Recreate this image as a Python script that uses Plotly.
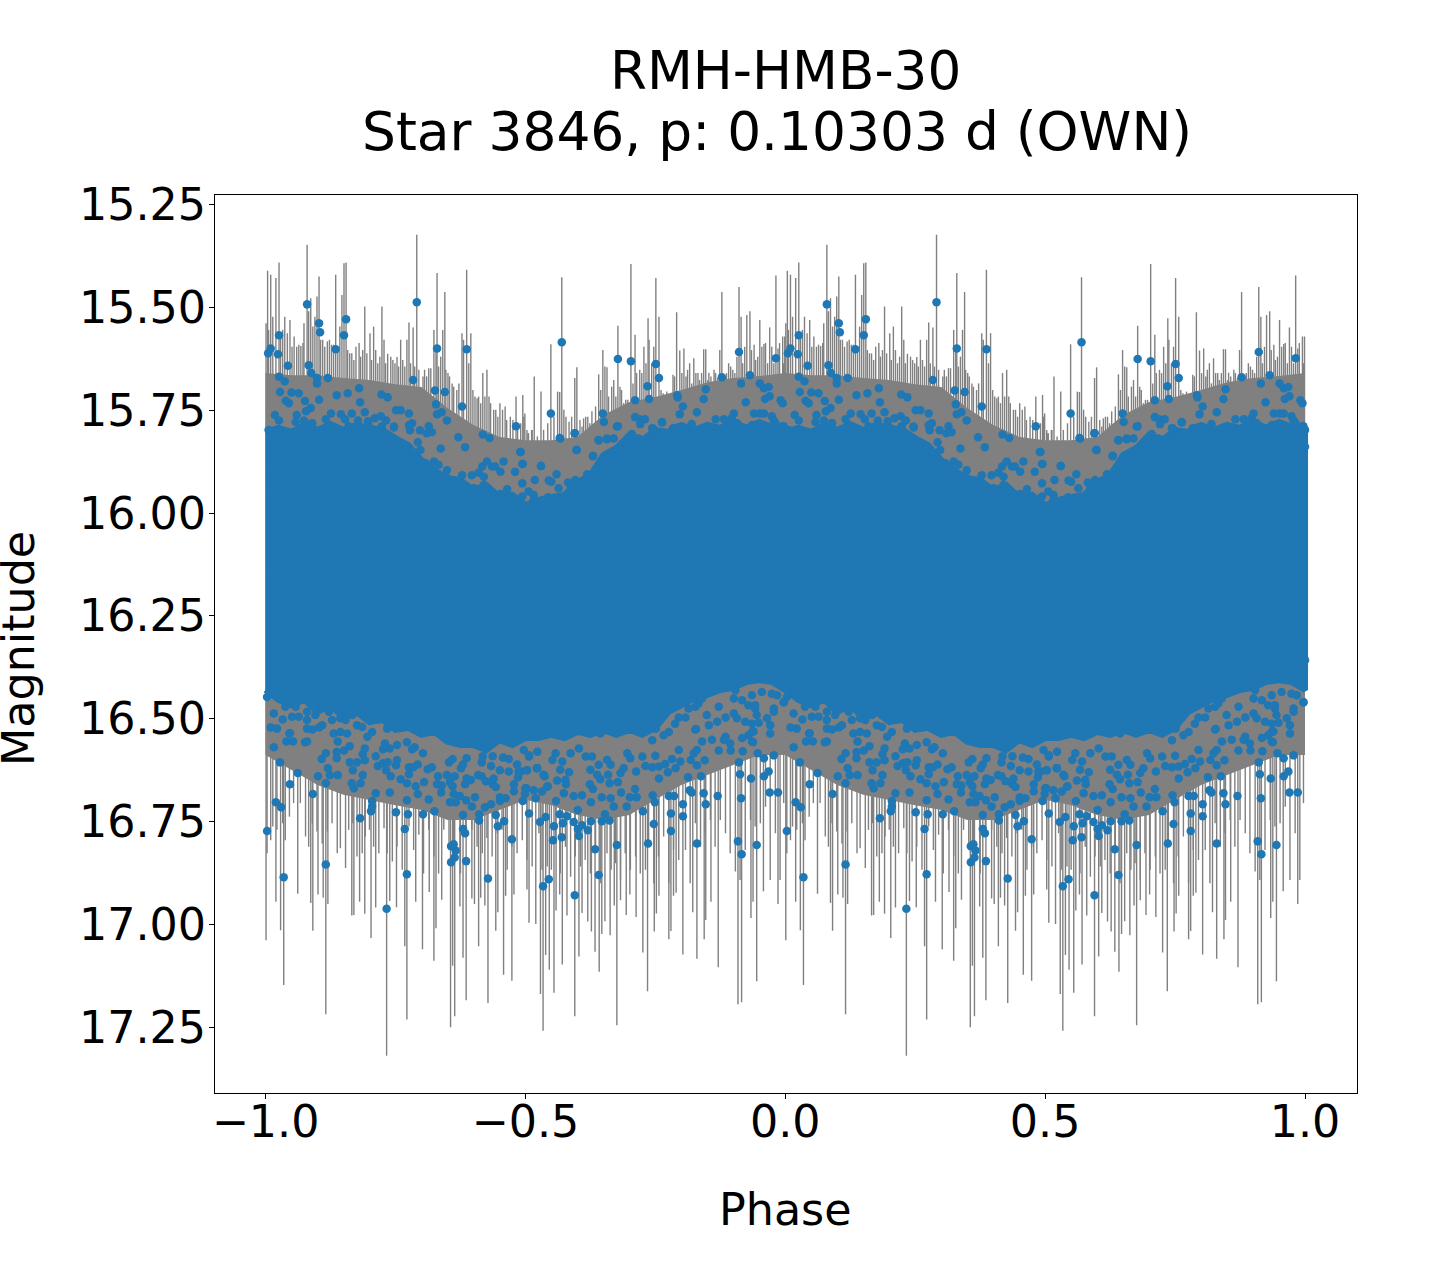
import plotly.graph_objects as go

# Values. Phases cover 0..1; the chart repeats them at phase-1.
title_line1 = "RMH-HMB-30"
title_line2 = "Star 3846, p: 0.10303 d (OWN)"

upper_phase = [.005,.010,.024,.026,.043,.026,.037,.080,.103,.105,.083,.088,.099,.099,.120,.151,.155,.135,.180,.291,.284,.330,.387,.326,.345,.328,.378,.276,.251,.260,.223,.235,.182,.158,.137,.103,.064,.050,.028,.076,.039,.045,.482,.418,.431,.490,.293,.297,.314,.320,.310,.337,.384,.371,.349,.339,.330,.282,.276,.278,.232,.222,.210,.191,.166,.126,.087,.078,.060,.018,.026,.058,.074,.089,.116,.145,.153,.160,.178,.197,.224,.247,
.570,.549,.678,.703,.751,.757,.735,.711,.738,.649,.651,.595,.566,.599,.641,.657,.678,.711,.720,.730,.763,.745,.792,.793,.803,.797,.830,.843,.847,.878,.911,.915,.932,.951,.959,.968,.982,.991,.995,.924,.961,.970,.940,.951,.959,.901,.866,.882,.897,.907,.974,.978,.997,.999,.915,.938,.784,.793,.820,.630,.657,.682,.697,.720,.530,.495,.491]
upper_mag = [15.612,15.600,15.614,15.568,15.642,15.669,15.680,15.493,15.539,15.561,15.641,15.660,15.672,15.685,15.672,15.568,15.529,15.602,15.697,15.488,15.677,15.600,15.602,15.702,15.706,15.736,15.741,15.758,15.750,15.750,15.712,15.719,15.731,15.709,15.714,15.725,15.709,15.707,15.706,15.728,15.727,15.733,15.789,15.809,15.818,15.852,15.828,15.799,15.789,15.804,15.806,15.843,15.840,15.816,15.775,15.755,15.760,15.782,15.787,15.799,15.775,15.765,15.770,15.755,15.758,15.758,15.745,15.753,15.762,15.762,15.775,15.779,15.775,15.782,15.772,15.760,15.772,15.789,15.775,15.777,15.789,15.792,
15.585,15.758,15.626,15.631,15.638,15.672,15.692,15.726,15.723,15.758,15.779,15.806,15.818,15.847,15.823,15.821,15.789,15.767,15.772,15.772,15.779,15.794,15.714,15.719,15.741,15.760,15.755,15.723,15.699,15.670,15.609,15.685,15.665,15.685,15.697,15.694,15.624,15.726,15.733,15.731,15.723,15.716,15.758,15.758,15.758,15.758,15.772,15.772,15.770,15.782,15.765,15.775,15.789,15.799,15.799,15.787,15.794,15.792,15.784,15.862,15.864,15.843,15.843,15.845,15.886,15.881,15.852]

edge_top_phase = [.006,.026,.048,.071,.090,.077,.083,.106,.122,.135,.119,.138,.154,.160,.186,.199,.218,.186,.237,.247,.224,.199,.205,.186,.160,.141,.096,.064,.038,.019,.247,.272,.266,.282,.298,.240,.253,.276,.301,.308,.324,.333,.349,.308,.317,.330,.346,.378,.397,.410,.420,.417,.426,.436,.442,.458,.452,.480,.494,.301,.317,.330,.356,.372,.385,.401,.420,.410,.426,.465,.452,.494,.494,.285,.276,.372,.391,.407,.430,.439,.455,.484,.471,.446,.423,.500,.462,.423,.397,.372,.346,.321,.301,.276,.308,.346,.378,
.530,.518,.545,.550,.560,.567,.595,.598,.630,.641,.657,.670,.676,.654,.679,.696,.705,.718,.721,.721,.744,.747,.744,.763,.788,.782,.766,.756,.673,.686,.699,.715,.728,.740,.660,.673,.654,.619,.615,.596,.582,.564,.587,.603,.622,.644,.506,.516,.544,.516,.576,.590,.606,.628,.554,.532,.503,.526,.599,.580,.510,.548,.801,.817,.846,.869,.885,.897,.917,.936,.962,.981,.994,1.0,.942,.962,.974,.990,1.0,.942,.962,.994,.978,.910,.885,.859,.827,.804,.962]
edge_top_mag = [15.798,15.798,15.815,15.831,15.782,15.798,15.823,15.806,15.806,15.798,15.831,15.827,15.823,15.815,15.810,15.810,15.810,15.831,15.827,15.790,15.790,15.790,15.851,15.851,15.843,15.851,15.851,15.851,15.843,15.831,15.851,15.839,15.855,15.851,15.847,15.875,15.883,15.875,15.883,15.879,15.875,15.883,15.896,15.904,15.902,15.908,15.910,15.908,15.908,15.902,15.912,15.887,15.875,15.887,15.887,15.875,15.900,15.900,15.881,15.924,15.936,15.944,15.928,15.940,15.944,15.940,15.932,15.948,15.944,15.942,15.954,15.928,15.960,15.940,15.940,15.964,15.972,15.968,15.964,15.960,15.972,15.981,15.986,15.983,15.981,16.005,16.005,16.009,16.005,15.989,15.981,15.968,15.968,15.968,16.001,16.009,16.013,
15.886,15.920,15.921,15.924,15.906,15.819,15.806,15.847,15.861,15.823,15.819,15.819,15.790,15.863,15.843,15.843,15.808,15.819,15.845,15.784,15.815,15.827,15.794,15.780,15.794,15.823,15.847,15.851,15.875,15.870,15.870,15.867,15.870,15.865,15.894,15.896,15.912,15.906,15.920,15.920,15.926,15.940,15.940,15.944,15.940,15.934,15.948,15.956,15.962,15.968,15.967,15.970,15.968,15.968,15.968,15.989,15.989,15.993,15.991,16.009,16.013,16.013,15.810,15.810,15.810,15.806,15.802,15.806,15.798,15.786,15.794,15.782,15.790,15.798,15.819,15.831,15.823,15.819,15.839,15.843,15.847,15.855,15.871,15.827,15.831,15.835,15.831,15.843,15.867]

edge_bottom_phase = [.003,.016,.010,.022,.046,.033,.051,.064,.038,.026,.058,.080,.080,.080,.090,.103,.109,.096,.109,.122,.128,.144,.154,.157,.167,.131,.144,.157,.176,.186,.205,.196,.234,.253,.263,.247,.218,.199,.228,.276,.298,.292,.321,.333,.314,.343,.369,.385,.397,.359,.417,.455,.478,.115,.096,.071,.038,.016,
.997,.978,.978,.965,.971,.971,.942,.945,.942,.929,.917,.904,.901,.901,.907,.923,.936,.949,.936,.929,.885,.885,.869,.853,.849,.833,.827,.814,.872,.808,.795,.788,.827,.776,.766,.750,.744,.705,.699,.670,.654,.644,.840,.821,.846,.859,.910,.926,.942,.955,.974,.984,.936,.990,.997,.962,.942,.923,.878,.849,.891,.962,1.0,.994,
.497,.507,.523,.558,.552,.571,.567,.523,.535,.561,.577,.542,.532,.500,.491,.587,.603,.616,.628,.625,.641,.638,.644,.659,.657,.664,.683,.689,.696,.702,.725,.731,.744,.750,.757,.769,.782,.795,.798,.818,.824,.830,.840,.859,.882,.894,.917,.939,.936]
edge_bottom_mag = [16.447,16.487,16.521,16.524,16.536,16.502,16.495,16.495,16.471,16.447,16.471,16.483,16.503,16.524,16.526,16.521,16.516,16.491,16.471,16.483,16.503,16.499,16.503,16.483,16.491,16.536,16.532,16.536,16.516,16.520,16.532,16.544,16.524,16.520,16.507,16.483,16.475,16.487,16.487,16.520,16.491,16.524,16.524,16.528,16.499,16.503,16.524,16.532,16.528,16.544,16.528,16.536,16.540,16.439,16.447,16.439,16.422,16.414,
16.460,16.475,16.483,16.499,16.516,16.536,16.475,16.491,16.467,16.467,16.455,16.431,16.451,16.487,16.499,16.507,16.512,16.510,16.532,16.540,16.497,16.544,16.507,16.516,16.491,16.463,16.471,16.475,16.471,16.497,16.497,16.512,16.526,16.532,16.540,16.524,16.552,16.516,16.503,16.507,16.528,16.536,16.451,16.451,16.418,16.414,16.405,16.394,16.402,16.435,16.439,16.443,16.443,16.410,16.382,16.386,16.374,16.378,16.378,16.394,16.402,16.406,16.358,16.325,
16.576,16.592,16.580,16.584,16.600,16.604,16.624,16.620,16.636,16.650,16.649,16.665,16.677,16.669,16.628,16.584,16.572,16.592,16.592,16.624,16.612,16.636,16.647,16.636,16.600,16.612,16.632,16.620,16.584,16.596,16.592,16.615,16.618,16.590,16.616,16.610,16.598,16.576,16.604,16.600,16.584,16.576,16.555,16.551,16.551,16.560,16.547,16.531,16.555]

lower_phase = [.003,.035,.116,.272,.428,.386,.357,.364,.366,.357,.362,.474,.384,.380,.268,.182,.274,.303,.251,.203,.205,.205,.212,.239,.272,.293,.314,.325,.380,.411,.411,.443,.459,.447,.507,.495,.499,.478,.478,.451,.451,.462,.434,.422,.397,.403,.386,.374,.362,.366,.355,.338,.330,.339,.305,.289,.272,.260,.241,.187,.183,.170,.166,.139,.124,.116,.101,.091,.062,.047,.028,.020,.030,.120,.168,.016,.139,.047,.040,.053,.076,.080,.108,.116,.137,.137,.151,.162,.162,.176,.191,.187,.191,.212,.216,.226,.235,.232,.253,.251,.276,.293,.276,.284,.253,.230,.226,.239,.272,.287,.282,.303,.312,.320,.332,.349,.364,.355,.360,.384,.387,.395,.409,.416,.424,.439,.437,.443,.486,.487,.503,.484,.468,.451,.434,.416,.376,.380,.353,.360,.387,.418,.437,.457,.468,.507,.233,
.595,.534,.545,.641,.634,.676,.736,.830,.909,.945,.916,.553,.570,.603,.601,.609,.620,.626,.647,.662,.653,.601,.572,.555,.528,.539,.566,.580,.593,.520,.559,.574,.593,.609,.626,.647,.664,.670,.684,.695,.701,.714,.711,.726,.745,.749,.747,.780,.780,.803,.803,.776,.786,.816,.820,.843,.847,.870,.915,.934,.959,.968,.970,.986,.913,.911,.918,.895,.872,.845,.838,.813,.830,.789,.774,.757,.713,.678,.662,.630,.624,.578,.543,.516,.502,.537,.584,.522,.503,.978,.959,.947,.997,.938,.828,.751]
lower_mag = [16.773,16.885,16.854,16.878,16.888,16.846,16.849,16.837,16.820,16.810,16.805,16.793,16.778,16.768,16.768,16.742,16.732,16.732,16.727,16.725,16.713,16.700,16.681,16.679,16.698,16.683,16.696,16.725,16.734,16.732,16.747,16.734,16.749,16.761,16.730,16.700,16.683,16.676,16.659,16.700,16.691,16.693,16.708,16.715,16.713,16.691,16.698,16.688,16.683,16.703,16.703,16.679,16.659,16.662,16.654,16.664,16.657,16.647,16.640,16.637,16.657,16.669,16.657,16.637,16.637,16.657,16.640,16.683,16.632,16.659,16.606,16.703,16.715,16.620,16.625,16.569,16.555,16.535,16.555,16.555,16.557,16.555,16.598,16.584,16.581,16.596,16.577,16.567,16.606,16.606,16.572,16.586,16.601,16.591,16.615,16.608,16.606,16.625,16.601,16.613,16.618,16.611,16.635,16.618,16.564,16.560,16.574,16.572,16.557,16.569,16.574,16.584,16.623,16.618,16.640,16.637,16.640,16.654,16.664,16.659,16.645,16.649,16.637,16.640,16.652,16.645,16.659,16.666,16.642,16.628,16.625,16.611,16.628,16.625,16.615,16.606,16.620,16.611,16.606,16.598,16.596,16.591,16.591,16.594,16.598,16.589,16.962,
16.929,16.907,16.890,16.880,16.817,16.807,16.803,16.803,16.798,16.807,16.829,16.795,16.788,16.785,16.768,16.759,16.771,16.749,16.749,16.747,16.732,16.722,16.754,16.761,16.751,16.739,16.732,16.737,16.751,16.693,16.700,16.681,16.688,16.686,16.703,16.691,16.693,16.713,16.679,16.713,16.691,16.691,16.671,16.725,16.686,16.703,16.756,16.730,16.773,16.708,16.737,16.688,16.688,16.674,16.679,16.681,16.708,16.688,16.693,16.645,16.640,16.628,16.679,16.679,16.635,16.606,16.579,16.577,16.577,16.601,16.640,16.642,16.613,16.620,16.630,16.645,16.628,16.654,16.657,16.671,16.659,16.659,16.664,16.674,16.669,16.640,16.630,16.620,16.625,16.589,16.596,16.584,16.460,16.557,16.525,16.523]

bar_top_phase = [.004,.010,.020,.026,.001,.037,.047,.055,.060,.068,.074,.080,.083,.087,.095,.099,.103,.110,.119,.127,.135,.147,.151,.155,.158,.166,.180,.191,.201,.208,.224,.235,.245,.253,.260,.268,.276,.284,.291,.303,.314,.324,.330,.337,.345,.351,.359,.368,.378,.387,.395,.407,.418,.426,.430,.443,.451,.461,.471,.482,.495,.503,.517,
.530,.543,.549,.562,.566,.570,.578,.584,.595,.599,.605,.612,.620,.628,.641,.649,.653,.657,.670,.678,.682,.693,.703,.711,.720,.728,.736,.738,.751,.757,.765,.772,.778,.784,.791,.797,.805,.816,.824,.832,.843,.847,.853,.863,.870,.878,.884,.891,.899,.911,.915,.926,.932,.940,.951,.959,.970,.982,.986,.995,.999,
.006,.014,.029,.033,.042,.051,.064,.072,.091,.106,.114,.123,.131,.139,.143,.162,.170,.174,.183,.187,.195,.204,.212,.216,.220,.228,.231,.241,.249,.256,.264,.272,.279,.287,.295,.306,.310,.318,.328,.333,.341,.347,.354,.362,.372,.381,.391,.399,.403,.410,.414,.422,.433,.439,.447,.456,.464,.476,.485,.491,.499,.506,.513,
.497,.505,.512,.523,.535,.555,.574,.589,.609,.616,.624,.632,.635,.645,.660,.666,.674,.685,.689,.697,.707,.714,.724,.732,.743,.747,.761,.768,.776,.787,.801,.809,.812,.820,.828,.835,.839,.851,.857,.866,.874,.887,.895,.903,.907,.918,.922,.935,.943,.947,.955,.962,.966,.974,.978,.989,.997]
bar_top_mag = [15.411,15.421,15.429,15.391,15.539,15.523,15.531,15.571,15.596,15.594,15.539,15.348,15.510,15.478,15.523,15.474,15.425,15.579,15.583,15.591,15.421,15.470,15.393,15.391,15.604,15.612,15.587,15.498,15.563,15.547,15.498,15.613,15.628,15.621,15.579,15.644,15.537,15.549,15.324,15.668,15.648,15.555,15.417,15.620,15.463,15.660,15.685,15.701,15.563,15.409,15.563,15.721,15.660,15.652,15.717,15.749,15.733,15.741,15.766,15.717,15.713,15.798,15.668,
15.705,15.782,15.590,15.705,15.706,15.427,15.766,15.778,15.672,15.646,15.774,15.770,15.766,15.753,15.663,15.604,15.644,15.646,15.677,15.545,15.693,15.725,15.395,15.567,15.652,15.596,15.527,15.579,15.429,15.523,15.709,15.705,15.766,15.664,15.512,15.605,15.600,15.636,15.624,15.660,15.602,15.602,15.659,15.652,15.672,15.463,15.668,15.636,15.652,15.451,15.523,15.519,15.510,15.591,15.531,15.589,15.549,15.423,15.600,15.571,15.571,
15.555,15.523,15.563,15.555,15.563,15.596,15.591,15.587,15.547,15.579,15.596,15.579,15.591,15.596,15.547,15.612,15.628,15.596,15.620,15.604,15.612,15.628,15.604,15.636,15.620,15.579,15.636,15.620,15.636,15.644,15.628,15.579,15.636,15.644,15.652,15.652,15.668,15.648,15.596,15.644,15.555,15.652,15.668,15.693,15.685,15.579,15.636,15.701,15.717,15.717,15.733,15.717,15.733,15.749,15.766,15.749,15.774,15.774,15.790,15.782,15.758,15.806,15.798,
15.766,15.806,15.798,15.814,15.798,15.766,15.749,15.766,15.790,15.766,15.782,15.790,15.741,15.701,15.717,15.693,15.717,15.701,15.733,15.725,15.685,15.660,15.660,15.636,15.636,15.596,15.701,15.717,15.758,15.668,15.660,15.668,15.652,15.685,15.660,15.677,15.660,15.677,15.668,15.660,15.604,15.660,15.644,15.660,15.620,15.636,15.596,15.604,15.628,15.620,15.596,15.587,15.636,15.596,15.636,15.587,15.636]

bar_bottom_phase = [.001,.020,.029,.035,.062,.087,.091,.101,.111,.116,.120,.166,.170,.181,.191,.203,.212,.233,.239,.252,.268,.272,.289,.302,.315,.324,.328,.339,.356,.360,.364,.374,.380,.386,.397,.402,.410,.414,.422,.428,.443,.447,.458,.462,.474,.478,.503,.507,.520,.529,.534,.539,.546,.555,.559,.566,.571,.580,.595,.603,.609,.620,.627,.634,.642,.647,.653,.663,.671,.676,.683,.694,.701,.713,.726,.735,.748,.752,.757,.776,.780,.785,.790,.803,.822,.830,.844,.847,.857,.871,.909,.916,.934,.938,.945,.958,.986,
.003,.010,.014,.022,.033,.038,.046,.054,.067,.077,.083,.090,.099,.109,.119,.128,.138,.144,.154,.160,.168,.176,.186,.192,.200,.208,.218,.228,.234,.244,.253,.263,.276,.285,.295,.304,.314,.324,.333,.343,.353,.362,.375,.385,.397,.407,.417,.426,.436,.446,.455,.465,.474,.484,.494,
.503,.513,.526,.532,.542,.550,.558,.567,.577,.587,.596,.606,.615,.625,.635,.644,.657,.665,.673,.683,.692,.702,.712,.721,.731,.737,.747,.756,.766,.776,.785,.795,.808,.817,.827,.837,.846,.856,.865,.875,.885,.894,.904,.913,.923,.933,.942,.952,.962,.971,.981,.990,.997]
bar_bottom_mag = [17.038,16.945,17.014,17.147,16.925,16.948,17.015,16.927,16.935,17.218,16.950,16.978,16.977,16.945,16.974,17.033,16.959,17.319,16.943,16.958,17.053,17.231,16.945,17.060,16.921,17.088,17.009,16.940,17.250,17.100,17.223,16.956,17.081,17.184,16.937,16.950,17.053,16.935,16.954,17.191,17.015,16.970,17.122,16.930,17.137,16.927,16.915,16.996,16.999,17.169,17.258,17.074,17.110,17.166,16.966,16.927,17.097,16.978,17.223,17.078,16.972,16.993,17.017,17.066,17.115,17.023,16.992,17.026,16.954,17.245,16.941,16.977,16.927,16.982,17.068,17.162,17.017,16.973,16.930,17.036,17.016,16.930,16.923,17.073,16.970,17.083,17.036,16.989,16.945,17.104,17.194,17.189,16.984,16.945,17.138,16.919,16.950,
16.827,16.795,16.762,16.770,16.754,16.795,16.738,16.705,16.705,16.786,16.811,16.754,16.774,16.803,16.774,16.754,16.827,16.815,16.863,16.770,16.754,16.835,16.827,16.786,16.770,16.811,16.827,16.766,16.827,16.847,16.811,16.867,16.762,16.819,16.782,16.876,16.770,16.835,16.876,16.770,16.815,16.803,16.876,16.778,16.770,16.811,16.827,16.790,16.835,16.778,16.770,16.867,16.811,16.827,16.795,
16.843,16.859,16.778,16.867,16.859,16.867,16.803,16.876,16.811,16.884,16.835,16.859,16.843,16.876,16.819,16.900,16.827,16.867,16.851,16.892,16.827,16.867,16.835,16.876,16.867,16.803,16.900,16.835,16.786,16.900,16.819,16.843,16.819,16.900,16.754,16.811,16.778,16.746,16.811,16.746,16.778,16.827,16.871,16.892,16.819,16.746,16.762,16.754,16.714,16.892,16.778,16.892,16.705]

band_phase = [0,.05,.1,.15,.2,.25,.3,.35,.4,.45,.5,.55,.6,.65,.7,.75,.8,.85,.9,.95,1]
bars_dense_top = [15.660,15.665,15.665,15.672,15.677,15.687,15.694,15.745,15.786,15.815,15.823,15.823,15.815,15.762,15.730,15.718,15.701,15.682,15.672,15.667,15.660]
bars_dense_bottom = [16.588,16.625,16.661,16.685,16.697,16.710,16.722,16.746,16.746,16.722,16.697,16.710,16.734,16.746,16.734,16.697,16.661,16.637,16.612,16.588,16.588]

core_phase = [0,.025,.05,.075,.1,.125,.15,.175,.2,.225,.25,.275,.3,.325,.35,.375,.4,.425,.45,.475,.5,.525,.55,.575,.6,.625,.65,.675,.7,.725,.75,.775,.8,.825,.85,.875,.9,.925,.95,.975,1]
points_dense_top = [15.803,15.793,15.803,15.786,15.798,15.784,15.798,15.786,15.793,15.798,15.818,15.835,15.871,15.896,15.915,15.920,15.944,15.932,15.961,15.956,15.981,15.968,15.961,15.956,15.925,15.908,15.859,15.842,15.810,15.823,15.798,15.803,15.786,15.798,15.786,15.793,15.779,15.793,15.779,15.793,15.803]
points_dense_bottom = [16.430,16.454,16.467,16.454,16.484,16.467,16.498,16.484,16.508,16.503,16.527,16.522,16.539,16.532,16.556,16.564,16.564,16.576,16.552,16.564,16.547,16.547,16.539,16.547,16.532,16.539,16.527,16.539,16.527,16.539,16.522,16.484,16.467,16.450,16.442,16.430,16.425,16.411,16.406,16.411,16.430]

x_ticks = [-1.0,-0.5,0.0,0.5,1.0]
y_ticks = [15.25,15.5,15.75,16.0,16.25,16.5,16.75,17.0,17.25]

GREY = "#808080"
BLUE = "#1f77b4"
MID = 16.15

def both(p):
    return [v - 1 for v in p] + list(p)

def segments(phases, ends):
    xs, ys = [], []
    for p, e in zip(phases, ends):
        for shift in (-1, 0):
            xs += [p + shift, p + shift, None]
            ys += [e, MID, None]
    return xs, ys

fig = go.Figure()
def band(phase, top, bottom, color, width):
    bx = both(phase)
    ty = list(top) + list(top)
    by = list(bottom) + list(bottom)
    fig.add_trace(go.Scatter(x=bx + bx[::-1], y=ty + by[::-1], mode="lines", fill="toself",
                             fillcolor=color, line=dict(color=color, width=width), hoverinfo="skip"))

band(band_phase, bars_dense_top, bars_dense_bottom, GREY, 0)
sx, sy = segments(bar_top_phase + bar_bottom_phase, bar_top_mag + bar_bottom_mag)
fig.add_trace(go.Scatter(x=sx, y=sy, mode="lines", line=dict(color=GREY, width=1.4), hoverinfo="skip"))
band(core_phase, points_dense_top, points_dense_bottom, BLUE, 6)
all_phase = upper_phase + edge_top_phase + edge_bottom_phase + lower_phase
all_mag = upper_mag + edge_top_mag + edge_bottom_mag + lower_mag
fig.add_trace(go.Scatter(x=both(all_phase), y=all_mag * 2, mode="markers",
                         marker=dict(color=BLUE, size=8.5, line=dict(width=0))))

fig.update_layout(
    width=1440, height=1280, showlegend=False, paper_bgcolor="white", plot_bgcolor="white",
    margin=dict(l=215, r=83, t=195, b=187),
    font=dict(family="DejaVu Sans", color="black", size=44.4),
    annotations=[
        dict(text=title_line1, xref="paper", yref="paper", x=0.5, y=1, yshift=124, xshift=-1, showarrow=False,
             font=dict(size=53.2), xanchor="center", yanchor="middle"),
        dict(text=title_line2, xref="paper", yref="paper", x=0.5, y=1, yshift=64, xshift=-9, showarrow=False,
             font=dict(size=53.4), xanchor="center", yanchor="middle"),
        dict(text="Phase", xref="paper", yref="paper", x=0.5, y=0, yshift=-116, xshift=-1, showarrow=False,
             font=dict(size=44.4), xanchor="center", yanchor="middle"),
        dict(text="Magnitude", xref="paper", yref="paper", x=0, y=0.5, xshift=-197, yshift=-5, textangle=-90,
             showarrow=False, font=dict(size=44.4), xanchor="center", yanchor="middle"),
    ],
)
fig.update_xaxes(range=[-1.0972, 1.1], tickvals=x_ticks, ticktext=["\u2212%.1f" % abs(v) if v < 0 else "%.1f" % v for v in x_ticks],
                 showgrid=False, zeroline=False, showline=True, mirror=True, linecolor="black", linewidth=1,
                 ticks="outside", ticklen=5, tickwidth=1, tickcolor="black", ticklabelstandoff=-15, automargin=False)
fig.update_yaxes(range=[17.4095, 15.2272], tickvals=y_ticks, tickformat=".2f",
                 showgrid=False, zeroline=False, showline=True, mirror=True, linecolor="black", linewidth=1,
                 ticks="outside", ticklen=5, tickwidth=1, tickcolor="black", ticklabelstandoff=-6, automargin=False)

fig.write_html("out.html", config={"displayModeBar": False},
               post_script="document.body.style.margin='0';window.dispatchEvent(new Event('resize'));")
